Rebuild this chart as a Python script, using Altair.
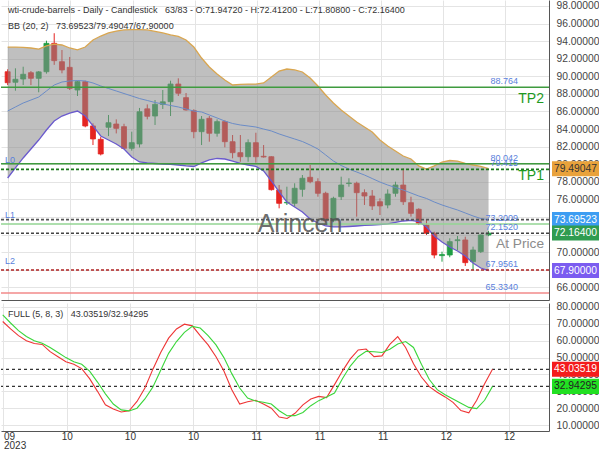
import altair as alt
import numpy as np
import pandas as pd

FONT = "Liberation Sans"

# ---------------- data ----------------
opens = [90.52, 89.32, 89.69, 90.41, 89.77, 90.52, 93.75, 91.66, 91.02, 88.44,
         89.39, 84.35, 82.83, 84.20, 84.57, 84.27, 81.81, 82.30, 86.30, 85.48,
         86.80, 87.11, 89.12, 87.57, 86.09, 83.70, 85.22, 83.52, 84.84, 82.56,
         81.31, 80.85, 82.45, 80.90, 80.85, 77.06, 75.60, 75.55, 77.14, 78.51,
         78.01, 76.69, 73.57, 76.30, 77.80, 77.83, 76.76, 76.38, 75.73, 75.36,
         76.69, 77.63, 75.62, 74.87, 73.08, 72.14, 69.60, 69.67, 71.30, 71.38,
         68.91, 70.05, 71.947]
highs = [90.80, 90.91, 91.09, 90.60, 90.60, 94.05, 94.90, 92.99, 92.20, 89.50,
         89.50, 84.65, 83.10, 85.60, 85.10, 84.60, 83.70, 86.40, 86.80, 87.30,
         88.44, 89.50, 89.77, 88.10, 86.25, 85.48, 85.48, 85.10, 85.00, 83.32,
         83.32, 82.83, 83.58, 82.18, 80.90, 77.63, 77.44, 77.83, 78.77, 79.91,
         78.40, 76.87, 76.30, 78.58, 78.40, 78.01, 77.14, 77.06, 76.12, 77.14,
         78.01, 79.53, 76.30, 74.98, 73.65, 72.32, 70.05, 71.57, 71.83, 71.75,
         70.62, 72.00, 72.412]
lows = [89.00, 88.36, 89.01, 89.00, 88.18, 90.30, 91.30, 90.34, 88.44, 87.76,
        84.20, 82.18, 81.00, 83.20, 83.50, 81.70, 81.54, 81.90, 85.10, 84.46,
        86.28, 85.48, 87.76, 86.09, 82.95, 82.18, 82.56, 83.13, 81.92, 80.67,
        80.28, 80.28, 80.17, 80.75, 77.00, 74.98, 75.36, 75.16, 76.30, 77.83,
        76.30, 73.46, 73.40, 75.93, 77.44, 74.03, 75.36, 74.79, 74.22, 74.98,
        76.30, 75.36, 74.03, 73.08, 71.95, 69.29, 68.91, 69.41, 70.24, 68.42,
        67.956, 69.90, 71.808]
closes = [89.27, 89.66, 90.23, 89.77, 90.50, 93.75, 91.78, 90.72, 88.63, 89.39,
          84.35, 82.87, 81.16, 84.72, 84.08, 81.81, 82.45, 85.97, 85.45, 86.81,
          87.10, 89.12, 88.07, 86.17, 83.70, 85.11, 83.52, 84.84, 82.56, 81.31,
          80.85, 82.45, 80.85, 80.82, 77.10, 75.55, 75.66, 77.26, 78.40, 78.01,
          76.69, 73.57, 76.12, 77.63, 77.86, 76.76, 76.38, 75.25, 75.25, 76.61,
          77.63, 75.73, 74.41, 73.27, 72.14, 69.67, 69.72, 71.19, 71.40, 68.80,
          70.24, 71.95, 72.164]

bb_upper = [93.33, 93.33, 93.28, 93.22, 93.10, 93.45, 93.67, 93.56, 93.22, 93.00,
            93.33, 94.13, 94.58, 94.93, 95.15, 95.27, 95.32, 95.32, 95.27, 95.10,
            94.93, 94.70, 94.53, 94.13, 93.33, 92.08, 91.06, 90.26, 89.58, 89.01,
            89.07, 89.12, 89.12, 89.24, 89.92, 90.60, 90.83, 90.72, 90.49, 89.81,
            88.90, 87.87, 86.96, 86.17, 85.48, 84.80, 84.23, 83.66, 82.75, 82.07,
            81.50, 80.93, 80.59, 79.80, 79.45, 79.80, 80.25, 80.42, 80.36, 80.08,
            79.91, 79.74, 79.49047]
bb_mid = [86.05, 86.51, 86.96, 87.30, 87.64, 88.33, 89.01, 89.35, 89.47, 89.52,
          89.47, 89.24, 88.90, 88.61, 88.33, 88.04, 87.76, 87.47, 87.25, 87.02,
          86.85, 86.68, 86.51, 86.28, 86.05, 85.94, 85.60, 85.26, 84.91, 84.63,
          84.46, 84.35, 84.23, 84.00, 83.78, 83.44, 83.15, 82.87, 82.58, 82.18,
          81.73, 81.05, 80.36, 79.85, 79.45, 79.11, 78.77, 78.37, 77.97, 77.63,
          77.35, 77.06, 76.72, 76.38, 76.10, 75.70, 75.36, 75.07, 74.79, 74.45,
          74.11, 73.82, 73.69523]
bb_lower = [78.43, 79.57, 80.71, 81.73, 82.75, 83.89, 84.91, 85.48, 85.82, 86.05,
            85.48, 84.35, 83.21, 82.75, 82.30, 81.73, 80.82, 80.25, 80.14, 80.08,
            80.02, 79.97, 79.91, 79.80, 79.74, 80.14, 80.48, 80.65, 80.59, 80.36,
            80.08, 79.91, 79.74, 79.23, 78.09, 76.84, 75.70, 75.13, 74.56, 73.77,
            73.31, 72.97, 72.86, 72.86, 72.91, 72.97, 73.03, 73.08, 73.14, 73.20,
            73.37, 73.54, 73.60, 73.48, 72.86, 71.83, 71.15, 70.58, 70.12, 69.56,
            68.76, 68.19, 67.90]

stoch_k = [71.4, 67.0, 63.0, 60.0, 58.3, 57.8, 53.5, 50.5, 47.5, 46.0,
           43.5, 37.5, 30.0, 22.0, 19.5, 17.8, 18.5, 24.0, 32.0, 43.0,
           53.0, 61.5, 67.0, 69.8, 68.8, 63.0, 57.5, 50.5, 42.0, 31.0,
           22.5, 23.8, 24.7, 22.5, 20.0, 14.8, 13.9, 17.0, 22.0, 25.5,
           27.0, 26.3, 34.0, 42.0, 49.2, 54.5, 55.1, 50.6, 51.0, 57.8,
           62.4, 56.0, 46.3, 38.5, 32.8, 29.5, 26.7, 23.5, 18.6, 17.3,
           24.7, 34.5, 43.03519]
stoch_d = [75.3, 70.5, 66.0, 62.5, 60.0, 58.5, 56.0, 53.0, 50.0, 47.5,
           46.0, 42.0, 35.5, 28.5, 22.5, 19.0, 18.4, 20.0, 25.5, 32.5,
           42.5, 52.5, 59.5, 65.0, 68.5, 67.5, 63.0, 57.5, 50.0, 40.5,
           32.0, 26.0, 24.3, 23.5, 22.5, 18.5, 15.5, 15.6, 17.5, 21.5,
           24.5, 26.6, 29.0, 37.5, 45.0, 50.5, 53.7, 53.5, 53.0, 55.0,
           58.0, 59.5, 56.0, 46.0, 37.0, 31.0, 28.0, 25.5, 23.0, 20.5,
           19.8, 24.7, 32.94295]

month_labels = ["09", "10", "10", "10", "11", "11", "11", "12", "12"]
year_label = "2023"

level_solid = [88.764, 80.042, 73.2009, 65.334]
level_solid_colors = ["#3f9b3f", "#3f9b3f", "#93d493", "#f28a8a"]
level_dashed = [79.415, 73.69523, 72.152, 67.9561]
level_dashed_colors = ["#1d7a1d", "#555555", "#444444", "#b02020"]
level_values = [88.764, 80.042, 79.415, 73.2009, 72.152, 67.9561, 65.334]
level_texts = ["88.764", "80.042", "79.415", "73.2009", "72.1520", "67.9561", "65.3340"]
l_values = [79.415, 73.2009, 67.9561]
l_texts = ["L0", "L1", "L2"]
tp_values = [88.764, 80.042]
tp_texts = ["TP2", "TP1"]
at_price_value = [72.152]

box_vals = [79.49047, 73.69523, 72.16400, 67.90000]
box_fill = ["#e9a23b", "#3d9df2", "#2f9c50", "#7b5cf0"]
box_tc = ["#333333", "#ffffff", "#ffffff", "#ffffff"]
sbox_vals = [43.03519, 32.94295]
sbox_fill = ["#f41c1c", "#22e022"]
sbox_tc = ["#ffffff", "#222222"]

header1 = ("wti-crude-barrels - Daily - Candlestick \u00a0 63/83 - O:71.94720 - "
           "H:72.41200 - L:71.80800 - C:72.16400")
header2 = "BB (20, 2) \u00a0 73.69523/79.49047/67.90000"
header3 = "FULL (5, 8, 3) \u00a0 43.03519/32.94295"

# ---------------- frames ----------------
n = len(opens)
idx = list(range(n))
candles = pd.DataFrame({"i": idx, "open": opens, "high": highs, "low": lows, "close": closes})
candles["dir"] = np.where(candles["close"] >= candles["open"], "up", "down")
bands = pd.DataFrame({"i": idx, "upper": bb_upper, "mid": bb_mid, "lower": bb_lower})
stoch = pd.DataFrame({"i": idx, "k": stoch_k, "d": stoch_d})

tick_pos = [0.1 + 8 * k for k in range(len(month_labels))]
arr = "[" + ",".join("'%s'" % m for m in month_labels) + "]"
kexpr = "round((datum.value - 0.1) / 8)"
label_expr = f"{kexpr} == 0 ? ['{month_labels[0]}', '{year_label}'] : {arr}[{kexpr}]"

grid_col = "#e4e4e4"
axis_col = "#555555"
xscale = alt.Scale(domain=[-0.215, 69.15], nice=False, zero=False)
ytop = alt.Scale(domain=[64.55, 98.68], nice=False, zero=False)
ybot = alt.Scale(domain=[6.5, 82.35], nice=False, zero=False)

x_top_axis = alt.Axis(values=tick_pos, labels=False, ticks=False, domain=True,
                      domainColor=axis_col, grid=True, gridColor=grid_col,
                      title=None, zindex=0)
x_bot_axis = alt.Axis(values=tick_pos, labelExpr=label_expr, ticks=False, domain=True,
                      domainColor=axis_col, grid=True, gridColor=grid_col,
                      labelFlush=5, labelPadding=0, labelFont=FONT, labelFontSize=10,
                      labelColor="#333", title=None, zindex=0, labelLineHeight=9.5)
y_top_axis = alt.Axis(orient="right", values=list(range(64, 99, 2)), format=".5f",
                      ticks=False, labelPadding=7, domainColor=axis_col,
                      gridColor=grid_col, labelColor="#444", labelFont=FONT,
                      labelFontSize=10.3, title=None, zindex=0)
y_bot_axis = alt.Axis(orient="right", values=list(range(10, 81, 10)), format=".5f",
                      ticks=False, labelPadding=7, domainColor=axis_col,
                      gridColor=grid_col, labelColor="#444", labelFont=FONT,
                      labelFontSize=10.3, title=None, zindex=0)

XT = alt.X("i:Q", scale=xscale, axis=x_top_axis)
XB = alt.X("i:Q", scale=xscale, axis=x_bot_axis)


def YT(f):
    return alt.Y(f, type="quantitative", scale=ytop, axis=y_top_axis)


def YB(f):
    return alt.Y(f, type="quantitative", scale=ybot, axis=y_bot_axis)


ccol = alt.Scale(domain=["up", "down"], range=["#1f9e45", "#e52421"])

# ---------------- top panel ----------------
wick = alt.Chart(candles).mark_rule(strokeWidth=1).encode(
    x=XT, y=YT("low"), y2="high", color=alt.Color("dir:N", scale=ccol, legend=None))
body = alt.Chart(candles).mark_bar(size=5, strokeWidth=0.8).encode(
    x=XT, y=YT("open"), y2="close",
    color=alt.Color("dir:N", scale=ccol, legend=None),
    stroke=alt.Stroke("dir:N", scale=ccol, legend=None))
area = alt.Chart(bands).mark_area(color="#8a8a8a", opacity=0.55).encode(
    x=XT, y=YT("lower"), y2="upper")
up_line = alt.Chart(bands).mark_line(color="#d9a650", strokeWidth=1.3).encode(x=XT, y=YT("upper"))
mid_line = alt.Chart(bands).mark_line(color="#6b8cc7", strokeWidth=1).encode(x=XT, y=YT("mid"))
lo_line = alt.Chart(bands).mark_line(color="#6a5acd", strokeWidth=1.3).encode(x=XT, y=YT("lower"))

solid_df = pd.DataFrame({"v": level_solid, "c": level_solid_colors})
dash_df = pd.DataFrame({"v": level_dashed, "c": level_dashed_colors})
solid_rules = alt.Chart(solid_df).mark_rule(strokeWidth=1.5).encode(
    y=YT("v"), color=alt.Color("c:N", scale=None))
dash_rules = alt.Chart(dash_df).mark_rule(strokeWidth=1.6, strokeDash=[3, 2]).encode(
    y=YT("v"), color=alt.Color("c:N", scale=None))

lvl_txt = alt.Chart(pd.DataFrame({"v": level_values, "t": level_texts})).mark_text(
    align="right", baseline="middle", dy=-6, font=FONT, fontSize=9, color="#5a7fdc"
).encode(x=alt.value(517), y=YT("v"), text="t:N")
l_txt = alt.Chart(pd.DataFrame({"v": l_values, "t": l_texts})).mark_text(
    align="left", baseline="middle", dy=-9, font=FONT, fontSize=9, color="#5a7fdc"
).encode(x=alt.value(4), y=YT("v"), text="t:N")
tp_txt = alt.Chart(pd.DataFrame({"v": tp_values, "t": tp_texts})).mark_text(
    align="right", baseline="middle", dy=12, font=FONT, fontSize=14, color="#1e9a1e"
).encode(x=alt.value(543), y=YT("v"), text="t:N")
at_txt = alt.Chart(pd.DataFrame({"v": at_price_value, "t": ["At Price"]})).mark_text(
    align="right", baseline="middle", dy=11, font=FONT, fontSize=13.7, color="#8c8c8c"
).encode(x=alt.value(543), y=YT("v"), text="t:N")
water = alt.Chart(pd.DataFrame({"t": ["Arincen"]})).mark_text(
    align="center", baseline="middle", font=FONT, fontSize=25, color="#555", opacity=0.85
).encode(x=alt.value(299), y=alt.value(224), text="t:N")

h1 = alt.Chart(pd.DataFrame({"t": [header1]})).mark_text(
    align="left", baseline="middle", font=FONT, fontSize=9, color="#333"
).encode(x=alt.value(7), y=alt.value(10), text="t:N")
h2 = alt.Chart(pd.DataFrame({"t": [header2]})).mark_text(
    align="left", baseline="middle", font=FONT, fontSize=9, color="#333"
).encode(x=alt.value(7), y=alt.value(26), text="t:N")

BOX = "M-1,-0.32H1V0.32H-1Z"
box_df = pd.DataFrame({"v": box_vals, "f": box_fill, "tc": box_tc,
                       "t": ["%.5f" % v for v in box_vals]})
boxes = alt.Chart(box_df).mark_point(shape=BOX, filled=True, opacity=1, size=2209,
                                     strokeWidth=0).encode(
    x=alt.value(574.5), y=YT("v"), color=alt.Color("f:N", scale=None))
box_t = alt.Chart(box_df).mark_text(align="center", baseline="middle", font=FONT,
                                    fontSize=10.3).encode(
    x=alt.value(574.5), y=YT("v"), text="t:N", color=alt.Color("tc:N", scale=None))

top = alt.layer(wick, body, area, up_line, mid_line, lo_line, solid_rules, dash_rules,
                lvl_txt, l_txt, tp_txt, at_txt, water, h1, h2, boxes, box_t
                ).properties(width=548, height=300)

# ---------------- bottom panel ----------------
k_line = alt.Chart(stoch).mark_line(color="#ee3535", strokeWidth=1.1).encode(x=XB, y=YB("k"))
d_line = alt.Chart(stoch).mark_line(color="#3ad63a", strokeWidth=1.1).encode(x=XB, y=YB("d"))
sdf = pd.DataFrame({"v": sbox_vals, "f": sbox_fill, "tc": sbox_tc,
                    "t": ["%.5f" % v for v in sbox_vals]})
s_rules = alt.Chart(sdf).mark_rule(strokeWidth=1.2, strokeDash=[3, 3], color="#333").encode(y=YB("v"))
s_boxes = alt.Chart(sdf).mark_point(shape=BOX, filled=True, opacity=1, size=2209,
                                    strokeWidth=0).encode(
    x=alt.value(574.5), y=YB("v"), color=alt.Color("f:N", scale=None))
s_box_t = alt.Chart(sdf).mark_text(align="center", baseline="middle", font=FONT,
                                   fontSize=10.3).encode(
    x=alt.value(574.5), y=YB("v"), text="t:N", color=alt.Color("tc:N", scale=None))
h3 = alt.Chart(pd.DataFrame({"t": [header3]})).mark_text(
    align="left", baseline="middle", font=FONT, fontSize=9, color="#333"
).encode(x=alt.value(7), y=alt.value(11), text="t:N")

bot = alt.layer(s_rules, k_line, d_line, h3, s_boxes, s_box_t).properties(width=548, height=128)

chart = alt.vconcat(top, bot, spacing=1).properties(
    padding=0, background="white"
).configure_view(stroke=None)

chart.save("out.html", embed_options={"renderer": "svg", "actions": False})
